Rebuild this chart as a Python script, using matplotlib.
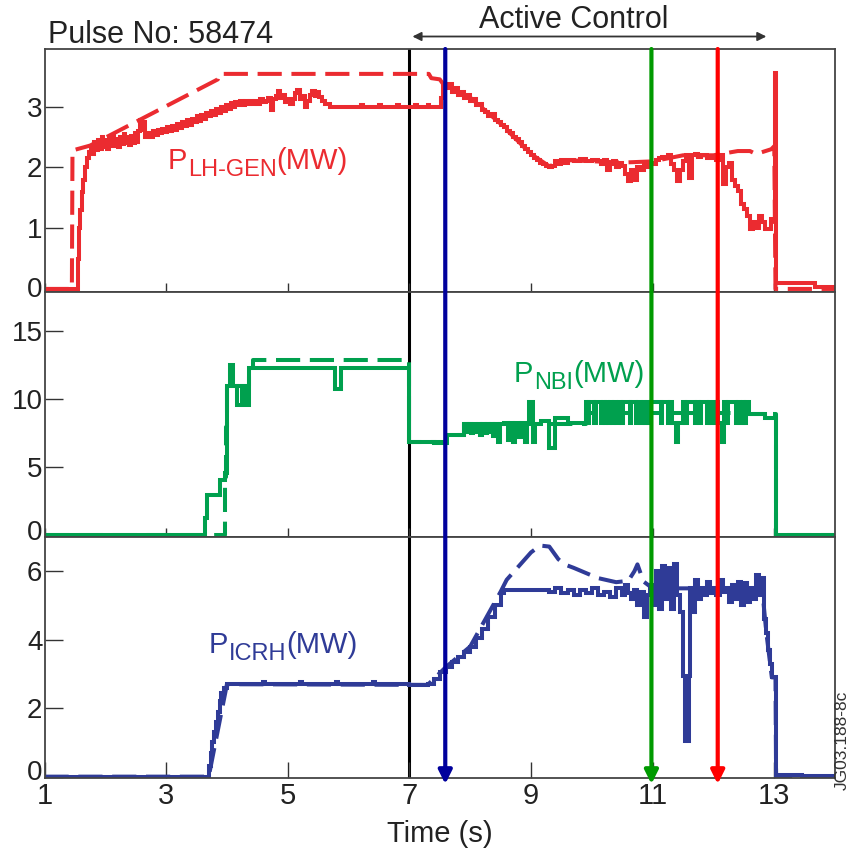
import matplotlib
matplotlib.use("Agg")
import matplotlib.pyplot as plt
import matplotlib.transforms as mtransforms

plt.rcParams['font.family'] = ['Liberation Sans', 'DejaVu Sans']

# ---------------- data ----------------
# P_LH-GEN actual (solid) [MW]
lh_t = [1.00, 1.55, 1.56, 1.585, 1.61, 1.64, 1.67, 1.70, 1.73,
        1.76, 1.79, 1.82, 1.85, 1.88, 1.91, 1.94, 1.97, 2.00, 2.03, 2.06, 2.09, 2.12, 2.15, 2.18, 2.21,
        2.24, 2.27, 2.30, 2.33, 2.36, 2.39, 2.42, 2.45, 2.48, 2.51, 2.54, 2.57, 2.60, 2.63, 2.66,
        2.70, 2.74, 2.78, 2.82, 2.86, 2.90, 2.94, 2.98, 3.02, 3.06, 3.10, 3.14, 3.18, 3.22, 3.26,
        3.30, 3.34, 3.38, 3.42, 3.46, 3.50, 3.54, 3.58, 3.62, 3.66, 3.70, 3.74, 3.78, 3.82, 3.86,
        3.90, 3.94, 3.98, 4.02, 4.06, 4.10, 4.14, 4.18, 4.22, 4.26, 4.30, 4.34, 4.38, 4.42,
        4.46, 4.50, 4.55, 4.60, 4.64, 4.68, 4.72, 4.76, 4.80, 4.84, 4.88, 4.92, 4.96, 5.00, 5.04,
        5.08, 5.12, 5.16, 5.20, 5.24, 5.28, 5.32, 5.36, 5.40, 5.44, 5.48, 5.52, 5.56, 5.62, 5.70,
        6.20, 6.23, 6.50, 6.53, 6.80, 6.83, 7.10, 7.13, 7.30, 7.33,
        7.52, 7.55, 7.60, 7.65, 7.70, 7.75, 7.80, 7.85, 7.90, 7.95, 8.00, 8.05, 8.10, 8.15, 8.20,
        8.25, 8.30, 8.35, 8.40, 8.45, 8.50, 8.55, 8.60, 8.65, 8.70, 8.75, 8.80, 8.85, 8.90, 8.95,
        9.00, 9.05, 9.10, 9.15, 9.20, 9.25, 9.30, 9.35, 9.40, 9.45, 9.50, 9.55, 9.60, 9.70, 9.80,
        9.90, 10.00, 10.10, 10.15, 10.20, 10.25, 10.30, 10.35, 10.40, 10.45, 10.50, 10.55, 10.60,
        10.65, 10.70, 10.75, 10.80, 10.85, 10.90, 10.95, 11.00, 11.05, 11.10, 11.15, 11.20, 11.25,
        11.30, 11.35, 11.40, 11.45, 11.50, 11.55, 11.60, 11.65, 11.70, 11.75, 11.80, 11.90, 12.00,
        12.05, 12.10, 12.15, 12.20, 12.25, 12.30, 12.35, 12.40, 12.45, 12.50, 12.55, 12.60, 12.65,
        12.70, 12.75, 12.80, 12.85, 12.90, 12.95, 13.01, 13.03, 13.67, 14.00]
lh_v = [0.00, 0.50, 1.00, 1.30, 1.60, 1.80, 2.00, 2.15, 2.25,
        2.35, 2.22, 2.42, 2.28, 2.45, 2.30, 2.50, 2.33, 2.45, 2.30, 2.48, 2.35, 2.52, 2.36, 2.46, 2.34,
        2.50, 2.38, 2.55, 2.40, 2.50, 2.37, 2.52, 2.40, 2.56, 2.42, 2.60, 2.78, 2.62, 2.75, 2.50,
        2.56, 2.50, 2.60, 2.53, 2.62, 2.56, 2.64, 2.58, 2.66, 2.60, 2.68, 2.62, 2.72, 2.65, 2.74,
        2.68, 2.78, 2.70, 2.80, 2.74, 2.84, 2.77, 2.86, 2.80, 2.90, 2.84, 2.93, 2.87, 2.96, 2.90,
        2.99, 2.93, 3.03, 2.96, 3.06, 3.00, 3.08, 3.02, 3.10, 3.03, 3.10, 3.04, 3.10, 3.05,
        3.10, 3.04, 3.12, 3.07, 3.10, 3.15, 2.95, 3.12, 3.18, 3.26, 3.15, 3.20, 3.08, 3.12, 3.05,
        3.12, 3.22, 3.28, 3.12, 3.18, 3.00, 3.10, 3.20, 3.26, 3.18, 3.24, 3.16, 3.10, 3.05, 3.00,
        3.03, 3.00, 3.03, 3.00, 3.03, 3.00, 3.03, 3.00, 3.03, 3.00,
        3.15, 3.35, 3.30, 3.38, 3.25, 3.30, 3.20, 3.25, 3.15, 3.20, 3.10, 3.12, 3.02, 3.05, 2.95,
        2.92, 2.85, 2.88, 2.78, 2.75, 2.70, 2.66, 2.60, 2.56, 2.50, 2.46, 2.42, 2.36, 2.30, 2.25,
        2.20, 2.15, 2.12, 2.08, 2.05, 2.02, 2.00, 2.03, 2.10, 2.06, 2.12, 2.08, 2.12, 2.10, 2.14,
        2.10, 2.13, 2.10, 2.05, 2.12, 1.95, 2.05, 2.10, 2.00, 2.08, 2.02, 1.90, 1.78,
        1.95, 1.80, 2.00, 1.95, 2.05, 2.00, 2.08, 2.05, 2.12, 2.15, 2.18, 2.17, 2.20,
        2.05, 1.95, 1.78, 1.95, 2.10, 2.20, 1.82, 2.20, 2.22, 2.18, 2.20, 2.15, 2.18,
        2.12, 2.20, 1.72, 2.00, 2.08, 1.80, 1.70, 1.62, 1.40, 1.32, 1.20, 0.98, 1.10,
        1.00, 1.20, 1.10, 0.98, 0.98, 1.15, 3.55, 0.10, 0.03, 0.03]

# P_LH-GEN reference (dashed)
lhr_t = [1.00, 1.45, 1.46, 1.75, 3.85, 3.87, 7.32, 7.36, 7.50, 7.55, 8.00, 8.50, 9.00, 9.30,
         9.60, 10.50, 11.00, 11.50, 12.00, 12.40, 12.60, 12.70, 12.95, 13.00, 13.02, 14.00]
lhr_v = [0.00, 0.00, 2.28, 2.36, 3.45, 3.54, 3.54, 3.47, 3.45, 3.38, 3.15, 2.72, 2.22, 2.02,
         2.12, 2.08, 2.10, 2.20, 2.20, 2.27, 2.27, 2.22, 2.30, 2.35, 0.00, 0.00]

# P_NBI actual (solid)
nbi_t = [1.00, 3.64, 3.67, 3.89, 3.96, 4.00, 4.05, 4.10, 4.17, 4.24, 4.31, 4.37, 5.78, 5.88,
         7.00, 7.40, 7.62, 7.90, 7.95, 7.98, 8.02, 8.05, 8.09, 8.12, 8.16, 8.19, 8.24, 8.27,
         8.31, 8.34, 8.38, 8.41, 8.45, 8.49, 8.55, 8.62, 8.66, 8.70, 8.74, 8.80, 8.84, 8.90,
         8.93, 8.97, 9.03, 9.06, 9.16, 9.30, 9.40, 9.60,
         9.90, 9.93, 9.96, 10.04, 10.07, 10.15, 10.18, 10.21, 10.24, 10.27, 10.30, 10.33, 10.36,
         10.39, 10.45, 10.48, 10.51, 10.62, 10.65, 10.73, 10.76, 10.81, 10.84, 10.87, 10.90,
         10.93, 10.96, 11.13, 11.16, 11.26, 11.29, 11.32, 11.38, 11.42, 11.50, 11.53, 11.56,
         11.70, 11.73, 11.76, 11.79, 11.89, 11.92, 11.95, 11.99, 12.02, 12.05, 12.08, 12.14,
         12.18, 12.21, 12.24, 12.37, 12.40, 12.43, 12.48, 12.51, 12.54, 12.58, 12.84, 13.03, 14.00]
nbi_v = [0.0, 1.3, 3.0, 4.1, 4.6, 11.0, 12.5, 11.0, 9.6, 11.0, 9.6, 12.3, 10.8, 12.3,
         6.9, 6.8, 7.4, 8.2, 7.6, 8.2, 7.5, 8.2, 7.6, 8.2, 7.4, 8.2, 7.5, 8.2,
         7.6, 8.2, 7.3, 8.2, 6.9, 8.2, 8.25, 7.0, 8.25, 6.9, 8.25, 7.2, 8.25, 6.9,
         8.25, 9.8, 6.9, 8.2, 8.4, 6.4, 8.6, 8.3,
         9.8, 8.3, 9.8, 8.3, 9.8, 8.3, 9.8, 8.3, 9.8, 8.3, 9.8, 8.3, 9.8,
         8.3, 9.8, 8.3, 9.8, 8.3, 9.8, 8.3, 9.8, 8.3, 9.8, 8.3, 9.8,
         8.3, 9.8, 8.3, 9.8, 8.3, 9.8, 8.3, 6.9, 8.3, 9.8, 8.3, 9.8,
         8.3, 9.8, 8.3, 9.8, 8.3, 9.8, 8.3, 9.8, 8.3, 9.8, 8.3, 6.9,
         9.8, 8.3, 9.8, 8.3, 9.8, 8.3, 9.8, 8.3, 9.8, 8.95, 8.6, 0.0, 0.0]

# P_NBI reference (dashed)
nbir_t = [1.00, 3.97, 3.99, 4.00, 4.37, 4.43, 7.00, 7.60, 7.90, 9.90, 12.57, 13.03, 14.00]
nbir_v = [0.0, 4.3, 8.0, 11.0, 12.3, 12.9, 6.9, 7.4, 8.2, 9.0, 8.9, 0.0, 0.0]

# P_ICRH actual (solid)
ic_t = [1.00, 3.70, 3.73, 3.76, 3.79, 3.82, 3.85, 3.88, 3.91, 3.95, 4.00, 4.60, 4.63, 5.20, 5.23,
        5.80, 5.83, 6.40, 6.43, 7.00, 7.30, 7.40, 7.50, 7.60, 7.70, 7.80, 7.90, 8.00, 8.10, 8.20,
        8.30, 8.40, 8.50, 8.55, 9.30, 9.40, 9.50, 9.60, 9.70, 9.80, 9.90, 10.00, 10.10, 10.20,
        10.30, 10.40, 10.50, 10.55, 10.60, 10.65, 10.70, 10.75, 10.80, 10.85, 10.90, 10.95, 11.00,
        11.05, 11.10, 11.15, 11.20, 11.25, 11.30, 11.35, 11.40, 11.45, 11.50, 11.53, 11.60, 11.62,
        11.65, 11.70, 11.75, 11.80, 11.85, 11.90, 11.95, 12.00, 12.05, 12.10, 12.15, 12.20, 12.25,
        12.30, 12.35, 12.40, 12.45, 12.50, 12.55, 12.60, 12.65, 12.70, 12.75, 12.80, 12.83, 12.87,
        12.90, 12.93, 12.96, 13.03, 13.45, 14.00]
ic_v = [0.0, 0.3, 0.7, 1.0, 1.3, 1.6, 1.9, 2.2, 2.45, 2.6, 2.72, 2.76, 2.72, 2.76, 2.72,
        2.76, 2.72, 2.76, 2.72, 2.68, 2.72, 2.85, 3.05, 3.2, 3.35, 3.5, 3.65, 3.8, 4.05, 4.3,
        4.65, 5.0, 5.35, 5.45, 5.4, 5.5, 5.35, 5.45, 5.3, 5.45, 5.35, 5.5, 5.3, 5.4,
        5.25, 5.5, 5.3, 5.6, 5.35, 5.2, 5.45, 5.0, 5.4, 4.65, 5.3, 5.6, 5.0,
        6.0, 4.9, 6.15, 5.2, 6.1, 4.9, 6.2, 5.3, 4.8, 2.95, 1.05, 2.95, 5.5,
        4.8, 5.75, 5.2, 5.5, 5.3, 5.7, 5.35, 5.5, 5.3, 5.75, 5.4, 5.5, 5.1,
        5.6, 5.2, 5.7, 5.0, 5.65, 5.1, 5.5, 5.2, 5.9, 5.3, 5.8, 4.6, 4.2,
        3.7, 3.3, 2.9, 0.05, 0.02, 0.02]

# P_ICRH reference (dashed)
icr_t = [1.00, 3.70, 4.00, 7.30, 7.60, 8.00, 8.50, 8.60, 8.80, 9.00, 9.15, 9.30, 9.45, 9.55,
         9.70, 9.90, 10.10, 10.40, 10.60, 10.70, 10.75, 10.85, 11.00, 12.80, 12.87, 12.96, 13.02,
         13.03, 14.00]
icr_v = [0.0, 0.0, 2.7, 2.68, 3.2, 3.8, 5.4, 5.75, 6.15, 6.55, 6.75, 6.72, 6.35, 6.2,
         6.1, 5.95, 5.8, 5.68, 5.72, 6.0, 6.2, 5.7, 5.5, 5.5, 4.2, 2.9, 2.9, 0.0, 0.0]

# control timing markers
active_start, active_end = 7.0, 12.87
arrow_times = [7.59, 10.98, 12.07]
arrow_colors = ['#00009C', '#009A00', '#FF0000']

x_ticks = [1, 3, 5, 7, 9, 11, 13]
lh_ticks = [0, 1, 2, 3]
nbi_ticks = [0, 5, 10, 15]
ic_ticks = [0, 2, 4, 6]

RED = '#EB2B30'
GREEN = '#00A04E'
BLUE = '#2F3B97'

# ---------------- figure ----------------
fig = plt.figure(figsize=(8.51, 8.49), dpi=100)
L, W = 0.0523, 0.929
ax1 = fig.add_axes([L, 0.6561, W, 0.2862])
ax2 = fig.add_axes([L, 0.3675, W, 0.2886])
ax3 = fig.add_axes([L, 0.0836, W, 0.2839])

dash = (6, 2.4)
lw = 2.9

ax1.plot(lhr_t, lhr_v, color=RED, lw=lw, dashes=dash, solid_capstyle='butt', dash_capstyle='butt')
ax1.plot(lh_t, lh_v, color=RED, lw=lw, drawstyle='steps-post', solid_joinstyle='miter')
ax2.plot(nbir_t, nbir_v, color=GREEN, lw=lw, dashes=dash, drawstyle='steps-post', dash_capstyle='butt')
ax2.plot(nbi_t, nbi_v, color=GREEN, lw=lw, drawstyle='steps-post', solid_joinstyle='miter')
ax3.plot(icr_t, icr_v, color=BLUE, lw=lw, dashes=dash, dash_capstyle='butt')
ax3.plot(ic_t, ic_v, color=BLUE, lw=lw, drawstyle='steps-post', solid_joinstyle='miter')

ylims = [(-0.05, 3.95), (-0.12, 17.9), (-0.04, 7.0)]
yticks = [lh_ticks, nbi_ticks, ic_ticks]
zero_shift = [2, 5, 7]  # pixels the "0" label sits above its tick
for ax, yl, yt, zs in zip([ax1, ax2, ax3], ylims, yticks, zero_shift):
    ax.set_xlim(1, 14)
    ax.set_ylim(*yl)
    ax.set_yticks(yt)
    ax.set_xticks(x_ticks)
    ax.axvline(active_start, color='black', lw=2.2, zorder=1)
    for s in ax.spines.values():
        s.set_color('#444444')
        s.set_linewidth(1.3)
    ax.tick_params(axis='y', direction='in', length=13, width=1.0, color='#333333',
                   labelsize=20, pad=1.5, labelcolor='#222222')
    ax.tick_params(axis='x', direction='in', length=6.5, width=1.0, color='#333333',
                   labelsize=21, pad=3, labelcolor='#222222')
    lab0 = ax.yaxis.get_major_ticks()[0].label1
    lab0.set_transform(lab0.get_transform() +
                       mtransforms.ScaledTranslation(0, zs / 100, fig.dpi_scale_trans))
ax1.tick_params(axis='x', labelbottom=False)
ax2.tick_params(axis='x', labelbottom=False)
ax3.tick_params(axis='x', length=11.5)
ax3.set_xlabel('Time (s)', fontsize=21, color='#222222', labelpad=7)

# labels with subscripts
renderer = fig.canvas.get_renderer()


def power_label(ax, x, y, sub, color):
    t1 = ax.text(x, y, 'P', color=color, fontsize=21, va='baseline', ha='left')
    w1 = t1.get_window_extent(renderer).width
    tr2 = mtransforms.offset_copy(ax.transData, fig=fig, x=w1 + 1, y=-7, units='dots')
    t2 = ax.text(x, y, sub, color=color, fontsize=17, va='baseline', ha='left', transform=tr2)
    w2 = t2.get_window_extent(renderer).width
    tr3 = mtransforms.offset_copy(ax.transData, fig=fig, x=w1 + w2 + 1, y=0, units='dots')
    ax.text(x, y, '(MW)', color=color, fontsize=21, va='baseline', ha='left', transform=tr3)


power_label(ax1, 3.02, 1.98, 'LH-GEN', RED)
power_label(ax2, 8.72, 11.3, 'NBI', GREEN)
power_label(ax3, 3.70, 3.6, 'ICRH', BLUE)

# timing arrows spanning all panels
y_top = 1 - 49 / 849
y_tip = 1 - 784 / 849
for t, c in zip(arrow_times, arrow_colors):
    ax3.annotate('', xy=(t, y_tip), xycoords=('data', 'figure fraction'),
                 xytext=(t, y_top), textcoords=('data', 'figure fraction'),
                 arrowprops=dict(arrowstyle='-|>', color=c, lw=3.0, mutation_scale=20,
                                 shrinkA=0, shrinkB=0),
                 annotation_clip=False, zorder=5)

# Active control arrow
y_ac = 1 - 36.5 / 849
ax1.annotate('', xy=(active_end, y_ac), xycoords=('data', 'figure fraction'),
             xytext=(active_start + 0.05, y_ac), textcoords=('data', 'figure fraction'),
             arrowprops=dict(arrowstyle='<|-|>', color='#333333', lw=1.3, mutation_scale=13,
                             shrinkA=0, shrinkB=0),
             annotation_clip=False)
ax1.text(9.7, 1 - 28 / 849, 'Active Control',
         transform=mtransforms.blended_transform_factory(ax1.transData, fig.transFigure),
         fontsize=22, ha='center', va='baseline', color='#222222')

fig.text(48 / 851, 1 - 43 / 849, 'Pulse No: 58474', fontsize=22, ha='left', va='baseline', color='#222222')
fig.text(842 / 851, 1 - 790 / 849, 'JG03.188-8c', fontsize=12.5, rotation=90, ha='center', va='bottom',
         color='#333333')

fig.savefig('out.png', dpi=100)
